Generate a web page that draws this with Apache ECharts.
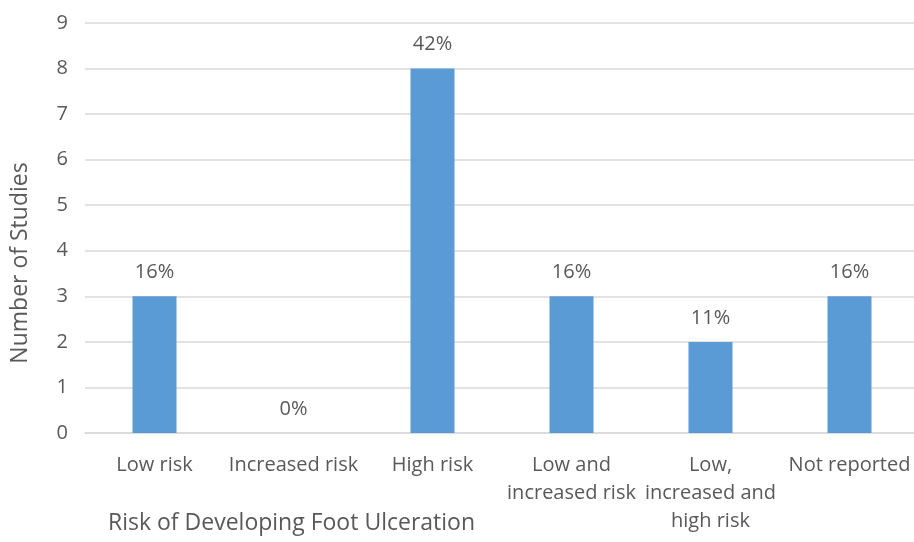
<!DOCTYPE html>
<html>
<head>
<meta charset="utf-8">
<script src="https://cdn.jsdelivr.net/npm/echarts@6/dist/echarts.min.js"></script>
<style>
  html, body { margin: 0; padding: 0; background: #fff; }
  #chart { width: 914px; height: 542px; }
</style>
</head>
<body>
<div id="chart"></div>
<script>
const categories = ['Low risk', 'Increased risk', 'High risk', 'Low and\nincreased risk', 'Low,\nincreased and\nhigh risk', 'Not reported']
const studies = [3, 0, 8, 3, 2, 3]
const percents = ['16%', '0%', '42%', '16%', '11%', '16%']
const yTicks = [0, 9, 1]

const textColor = '#595959'
const font = 'Open Sans'

let chart = echarts.init(document.getElementById('chart'))
chart.setOption({
  animation: false,
  textStyle: { fontFamily: font },
  grid: {
    left: 85,
    width: 834,
    top: 23,
    height: 410,
    outerBoundsMode: 'none'
  },
  title: {
    text: 'Risk of Developing Foot Ulceration',
    left: 108,
    top: 512,
    padding: 0,
    textStyle: { color: textColor, fontSize: 23, fontWeight: 'normal', fontFamily: font }
  },
  graphic: [{
    type: 'text',
    x: 20,
    y: 263,
    rotation: Math.PI / 2,
    style: {
      text: 'Number of Studies',
      fill: textColor,
      font: '23px "Open Sans"',
      align: 'center',
      verticalAlign: 'middle'
    }
  }],
  xAxis: {
    type: 'category',
    data: categories,
    axisTick: { show: false },
    axisLine: { lineStyle: { color: '#d9d9d9', width: 1.5 } },
    axisLabel: {
      color: textColor,
      fontSize: 20,
      lineHeight: 28,
      margin: 18,
      interval: 0
    }
  },
  yAxis: {
    type: 'value',
    min: yTicks[0],
    max: yTicks[1],
    interval: yTicks[2],
    axisLine: { show: false },
    axisTick: { show: false },
    splitLine: { lineStyle: { color: '#d9d9d9', width: 1.5 } },
    axisLabel: { color: textColor, fontSize: 20, margin: 17 }
  },
  series: [{
    type: 'bar',
    data: studies,
    barWidth: 44,
    itemStyle: { color: '#5b9bd5' },
    label: {
      show: true,
      position: 'top',
      distance: 14,
      color: textColor,
      fontSize: 20,
      formatter: p => percents[p.dataIndex]
    }
  }]
})
</script>
</body>
</html>
